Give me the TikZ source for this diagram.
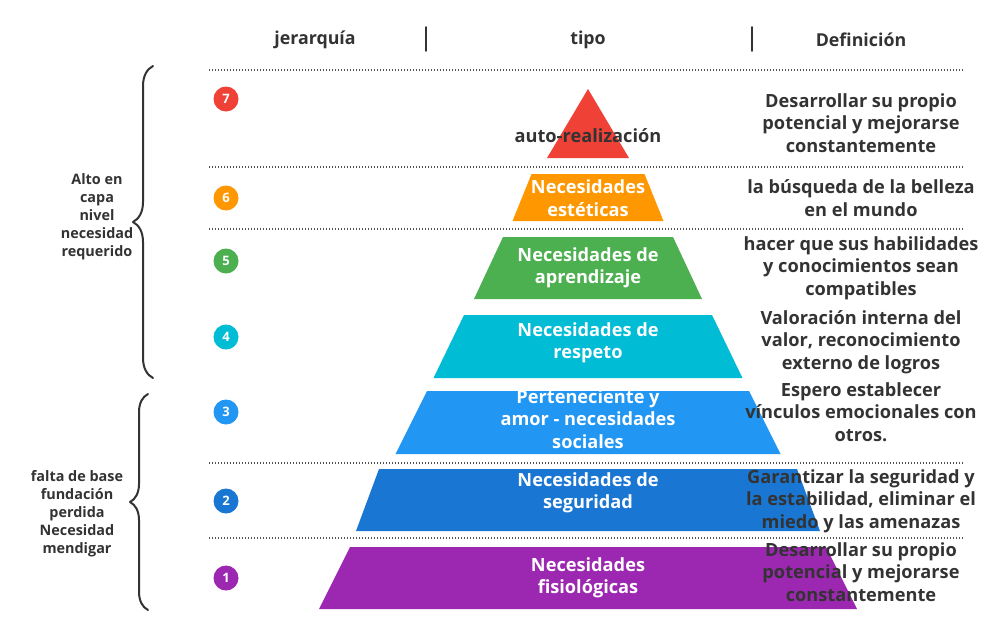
\documentclass[tikz,border=0pt]{standalone}
\usepackage{fontspec}
\setmainfont{Open Sans}
\usetikzlibrary{decorations.pathreplacing}
\definecolor{txt}{HTML}{333333}
\definecolor{c7}{HTML}{EF4136}
\definecolor{c6}{HTML}{FF9800}
\definecolor{c5}{HTML}{4CAF50}
\definecolor{c4}{HTML}{00BCD4}
\definecolor{c3}{HTML}{2196F3}
\definecolor{c2}{HTML}{1976D2}
\definecolor{c1}{HTML}{9C27B0}
\begin{document}
\begin{tikzpicture}[x=0.5pt,y=-0.5pt,line join=round,line cap=round,
		font=\bfseries\fontsize{9.1}{11.2}\selectfont,
		lvl/.style={align=center,inner sep=0pt},
		defn/.style={align=center,inner sep=0pt,text=txt},
		num/.style={circle,inner sep=0pt,minimum size=12.5pt,text=white,font=\bfseries\fontsize{6.5}{7}\selectfont},
		side/.style={align=center,inner sep=0pt,text=txt,font=\bfseries\fontsize{7.2}{9}\selectfont},
		head/.style={inner sep=0pt,text=txt,font=\bfseries\fontsize{8.9}{10}\selectfont},
		sep/.style={txt!85,line width=0.7pt,line cap=butt,dash pattern=on 0.6pt off 0.9pt},
		brc/.style={txt,line width=1pt,decorate}]
	\useasboundingbox (0,0) rectangle (1000,632);
	% cabecera
	\node[head] (hj) at (315,40) {jerarquía};
	\node[head] (ht) at (588,40) {tipo};
	\node[head] (hd) at (861,40) {Definición};
	\draw[txt,line width=0.8pt] (426,27) -- (426,51) (752,27) -- (752,51);
	% piramide
	\foreach \n/\yt/\wt/\yb/\wb/\ly/\tc/\lab in {
		7/89/0/158/41/136/txt/{auto-realización},
		6/174/56.5/221/75.5/198/white/{Necesidades\\estéticas},
		5/237/85/299/114/268/white/{Necesidades de\\aprendizaje},
		4/315/124/378/154.5/343/white/{Necesidades de\\respeto},
		3/391/161/454/192.5/419/white/{Perteneciente y\\amor - necesidades\\sociales},
		2/469/209/531/232/493/white/{Necesidades de\\seguridad},
		1/547/238/609/269/578/white/{Necesidades\\fisiológicas}}{
		\fill[c\n] (588-\wt,\yt) -- (588+\wt,\yt) -- (588+\wb,\yb) -- (588-\wb,\yb) -- cycle;
		\node[lvl,text=\tc] (l\n) at (588,\ly) {\lab};
	}
	% lineas punteadas
	\foreach \y in {70,167,229,463,538}
		\draw[sep] (209,\y) -- (963,\y);
	% numeros
	\foreach \n/\y in {7/99,6/198,5/261,4/337,3/412,2/501,1/578}
		\node[num,fill=c\n] (n\n) at (226,\y) {\n};
	% definiciones
	\foreach \n/\y/\lab in {
		7/123/{Desarrollar su propio\\potencial y mejorarse\\constantemente},
		6/198/{la búsqueda de la belleza\\en el mundo},
		5/268/{hacer que sus habilidades\\y conocimientos sean\\compatibles},
		4/342/{Valoración interna del\\valor, reconocimiento\\externo de logros},
		3/412/{Espero establecer\\vínculos emocionales con\\otros.},
		2/501/{Garantizar la seguridad y\\la estabilidad, eliminar el\\miedo y las amenazas},
		1/572/{Desarrollar su propio\\potencial y mejorarse\\constantemente}}
		\node[defn] (d\n) at (861,\y) {\lab};
	% llaves
	\draw[brc,decoration={brace,amplitude=10pt}] (153,378) -- (153,66);
	\draw[brc,decoration={brace,amplitude=9pt}] (148,610) -- (148,394);
	\node[side] (alto) at (97,217) {Alto en\\capa\\nivel\\necesidad\\requerido};
	\node[side] (base) at (77,514) {falta de base\\fundación\\perdida\\Necesidad\\mendigar};
\end{tikzpicture}
\end{document}
